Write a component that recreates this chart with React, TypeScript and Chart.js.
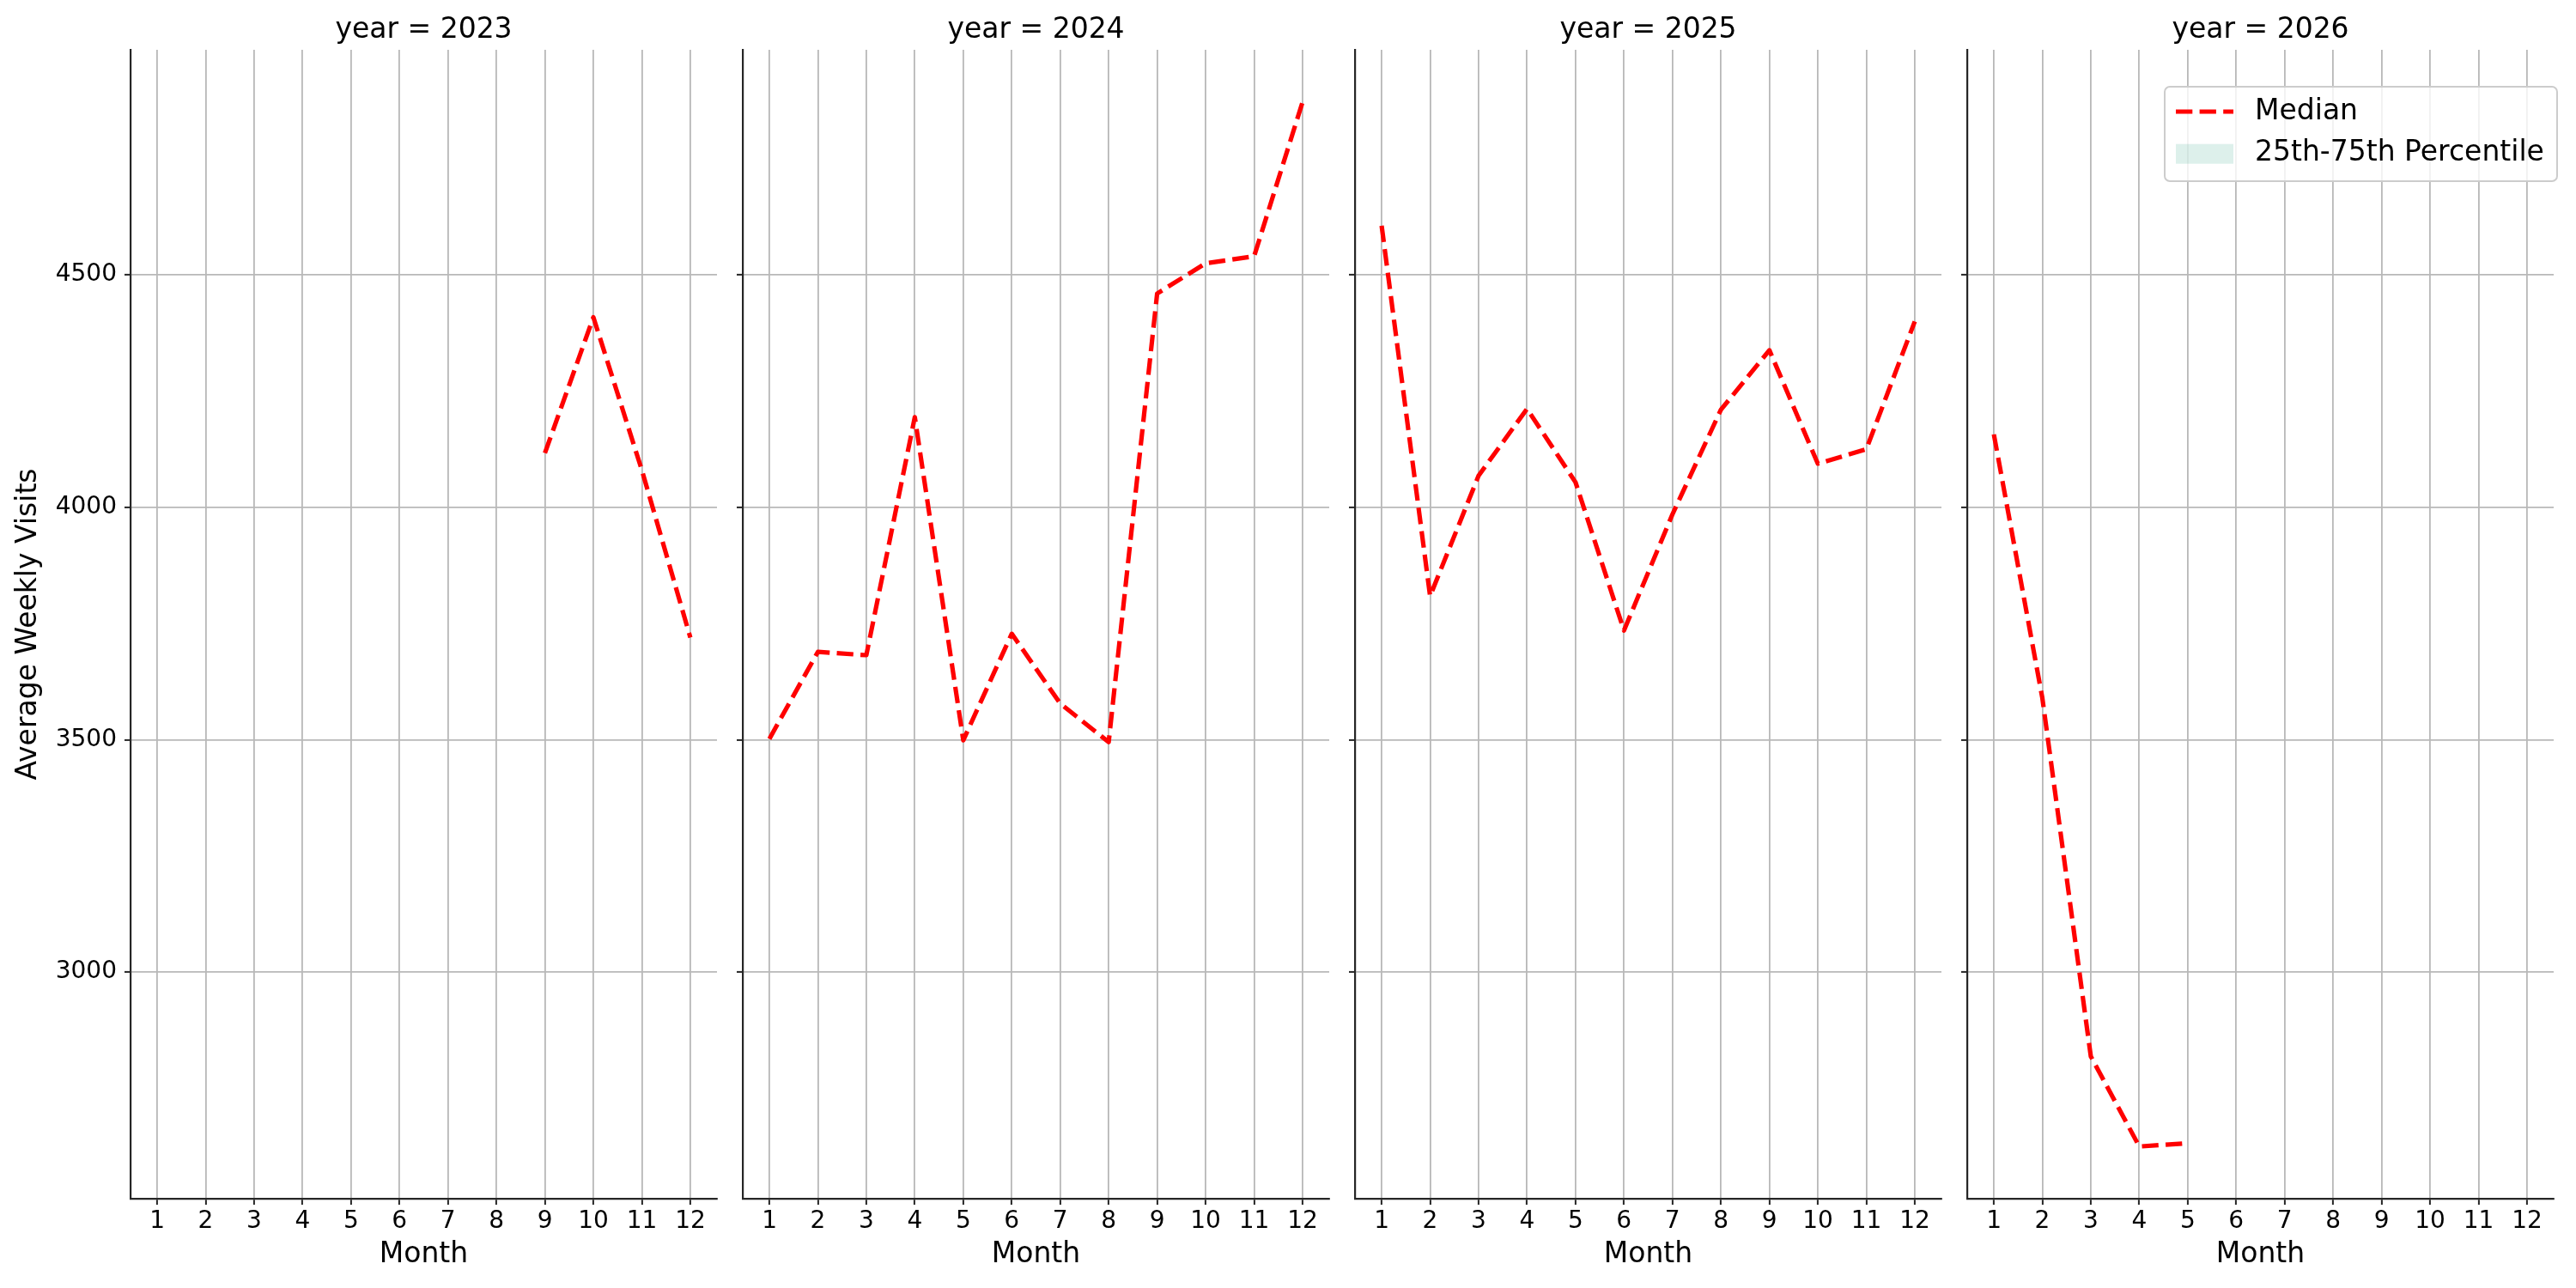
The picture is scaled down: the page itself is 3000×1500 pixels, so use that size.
import { useEffect, useRef } from "react";
import { Chart, Plugin, registerables } from "chart.js";

Chart.register(...registerables);

// data
const months = [1, 2, 3, 4, 5, 6, 7, 8, 9, 10, 11, 12];
const years = [2023, 2024, 2025, 2026];
const median2023 = [null, null, null, null, null, null, null, null, 4117, 4409, 4080, 3720];
const median2024 = [3502, 3689, 3682, 4194, 3499, 3728, 3578, 3495, 4460, 4525, 4540, 4872];
const median2025 = [4606, 3809, 4068, 4212, 4054, 3735, 3985, 4210, 4338, 4094, 4125, 4400];
const median2026 = [4157, 3590, 2819, 2625, 2632, null, null, null, null, null, null, null];
const yTicks = [3000, 3500, 4000, 4500];
const medianLabel = "Median";
const bandLabel = "25th-75th Percentile";
const xLabel = "Month";
const yLabel = "Average Weekly Visits";

const medians = [median2023, median2024, median2025, median2026];

const FONT = "DejaVu Sans";
const GRID = "#b8b8b8";
const SPINE = "#262626";
const LINE = "#ff0000";
const BAND = "rgba(85, 180, 155, 0.2)";
const DASH = [19.3, 8.3];

const FIRST_LEFT = 152;
const PANEL_STEP = 713;
const PLOT_W = 683;
const PLOT_BOTTOM = 1396;
const HEIGHT = 1500;

const allValues = medians.flat().filter((v): v is number => v !== null);
const dataMin = Math.min(...allValues);
const dataMax = Math.max(...allValues);
const yPad = (dataMax - dataMin) * 0.05;
const xPad = (months[months.length - 1] - months[0]) * 0.05;

Chart.defaults.font.family = FONT;

const legendBox: Plugin<"line"> = {
  id: "legendBox",
  afterDraw(chart) {
    const { ctx, chartArea } = chart;
    const [median, band] = chart.data.datasets;
    const left = chartArea.right - 453;
    const top = chartArea.top + 43;
    ctx.save();
    ctx.beginPath();
    ctx.roundRect(left, top, 457, 110, 6);
    ctx.fillStyle = "rgba(255,255,255,0.8)";
    ctx.fill();
    ctx.lineWidth = 2;
    ctx.strokeStyle = "#cccccc";
    ctx.stroke();

    ctx.beginPath();
    ctx.setLineDash(DASH);
    ctx.lineWidth = 5.2;
    ctx.strokeStyle = median.borderColor as string;
    ctx.moveTo(left + 13, top + 29);
    ctx.lineTo(left + 80, top + 29);
    ctx.stroke();
    ctx.setLineDash([]);

    ctx.fillStyle = band.backgroundColor as string;
    ctx.fillRect(left + 13, top + 66.7, 67, 23);

    ctx.fillStyle = "#000";
    ctx.font = `33px "${FONT}"`;
    ctx.textBaseline = "middle";
    ctx.textAlign = "left";
    ctx.fillText(median.label ?? "", left + 105, top + 29.6);
    ctx.fillText(band.label ?? "", left + 105, top + 77.6);
    ctx.restore();
  },
};

function Panel({ index }: { index: number }) {
  const canvasRef = useRef<HTMLCanvasElement | null>(null);
  const first = index === 0;
  const last = index === years.length - 1;
  const leftW = first ? FIRST_LEFT : 15;
  const plotLeft = FIRST_LEFT + PANEL_STEP * index;
  const width = leftW + PLOT_W + 15;

  useEffect(() => {
    if (!canvasRef.current) return;
    const values = medians[index];

    const chart = new Chart(canvasRef.current, {
      type: "line",
      data: {
        datasets: [
          {
            label: medianLabel,
            data: months.map((m, k) => ({ x: m, y: values[k] as number })),
            borderColor: LINE,
            borderWidth: 5.2,
            borderDash: DASH,
            borderJoinStyle: "round",
            pointRadius: 0,
            tension: 0,
            fill: false,
          },
          {
            label: bandLabel,
            data: [],
            backgroundColor: BAND,
            borderWidth: 0,
            pointRadius: 0,
          },
        ],
      },
      options: {
        responsive: false,
        animation: false,
        layout: { padding: { top: 0, right: 15, bottom: 0, left: 0 } },
        scales: {
          x: {
            type: "linear",
            min: months[0] - xPad,
            max: months[months.length - 1] + xPad,
            afterBuildTicks: (s) => {
              s.ticks = months.map((v) => ({ value: v }));
            },
            afterFit: (s) => {
              s.height = HEIGHT - PLOT_BOTTOM;
            },
            grid: {
              color: GRID,
              lineWidth: 1.8,
              tickColor: SPINE,
              tickLength: 7,
              tickWidth: 2,
            },
            border: { display: true, color: SPINE, width: 2.2 },
            ticks: {
              color: "#000",
              font: { size: 28 },
              padding: 3.4,
              maxRotation: 0,
              autoSkip: false,
              callback: (v) => String(v),
            },
            title: {
              display: true,
              text: xLabel,
              color: "#000",
              font: { size: 33 },
              padding: { top: 0, bottom: 18.6 },
            },
          },
          y: {
            type: "linear",
            min: dataMin - yPad,
            max: dataMax + yPad,
            afterBuildTicks: (s) => {
              s.ticks = yTicks.map((v) => ({ value: v }));
            },
            afterFit: (s) => {
              s.width = leftW;
            },
            grid: {
              color: GRID,
              lineWidth: 1.8,
              tickColor: SPINE,
              tickLength: 7,
              tickWidth: 2,
            },
            border: { display: true, color: SPINE, width: 2.2 },
            ticks: {
              display: first,
              color: "#000",
              font: { size: 28 },
              padding: 9,
              callback: (v) => String(v),
            },
            title: {
              display: first,
              text: yLabel,
              color: "#000",
              font: { size: 33 },
              padding: { top: 13.7, bottom: 0 },
            },
          },
        },
        plugins: {
          legend: { display: false },
          tooltip: { enabled: false },
          title: {
            display: true,
            text: `year = ${years[index]}`,
            color: "#000",
            fullSize: false,
            font: { size: 33, weight: "normal" },
            padding: { top: 16.1, bottom: 2.3 },
          },
        },
      },
      plugins: last ? [legendBox] : [],
    });

    return () => {
      chart.destroy();
    };
  }, [index, first, last, leftW]);

  return (
    <canvas
      ref={canvasRef}
      width={width}
      height={HEIGHT}
      style={{
        position: "absolute",
        left: plotLeft - leftW,
        top: 0,
        width,
        height: HEIGHT,
      }}
    />
  );
}

export default function App() {
  return (
    <div
      style={{
        position: "fixed",
        left: 0,
        top: 0,
        width: 3000,
        height: HEIGHT,
        background: "#fff",
        overflow: "hidden",
      }}
    >
      {years.map((year, i) => (
        <Panel key={year} index={i} />
      ))}
    </div>
  );
}
